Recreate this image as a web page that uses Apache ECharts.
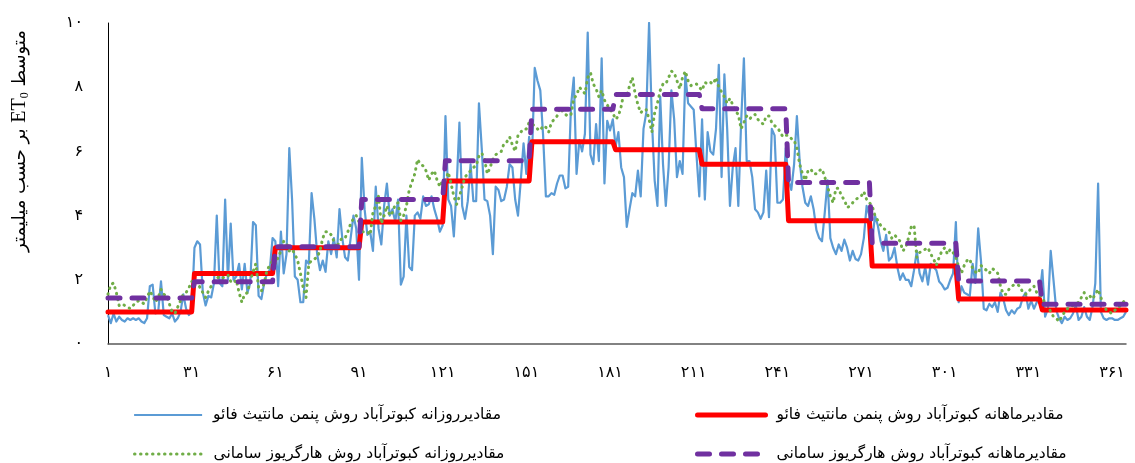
<!DOCTYPE html>
<html><head><meta charset="utf-8">
<script src="https://cdn.jsdelivr.net/npm/echarts@6/dist/echarts.min.js"></script>
<style>html,body{margin:0;padding:0;background:#fff}#c{width:1135px;height:463px}</style>
</head><body><div id="c"></div>
<script>
// ---- data ----
const seriesNames = [
  'مقادیرروزانه کبوترآباد روش پنمن مانتیث فائو',
  'مقادیرماهانه کبوترآباد روش پنمن مانتیث فائو',
  'مقادیرروزانه کبوترآباد روش هارگریوز سامانی',
  'مقادیرماهانه کبوترآباد روش هارگریوز سامانی'
];
const xTickLabels = ['۱','۳۱','۶۱','۹۱','۱۲۱','۱۵۱','۱۸۱','۲۱۱','۲۴۱','۲۷۱','۳۰۱','۳۳۱','۳۶۱'];
const yTickLabels = ['۰','۲','۴','۶','۸','۱۰'];
const monthDays = [31,29,31,30,31,30,31,31,30,31,30,31];
const monthlyFao = [1.0, 2.2, 3.0, 3.8, 5.08, 6.3, 6.05, 5.6, 3.84, 2.43, 1.4, 1.06];
const monthlyHS  = [1.43, 1.94, 3.03, 4.5, 5.71, 7.31, 7.77, 7.33, 5.03, 3.14, 1.96, 1.24];
const dailyFao = [
  0.9,0.65,0.95,0.7,0.85,0.75,0.7,0.8,0.75,0.8,0.75,0.8,0.7,0.65,0.8,1.8,1.85,0.95,1.0,1.95,0.9,0.85,0.8,0.95,0.7,0.8,1.0,1.55,1.1,0.9,1.0,
  3.0,3.2,3.1,1.6,1.2,1.5,1.45,1.9,4.0,1.9,1.8,4.5,2.0,3.75,2.0,2.1,2.5,1.7,2.5,1.6,1.9,3.8,3.7,1.5,1.4,1.9,2.2,2.3,3.3,
  3.2,1.8,3.5,2.2,2.8,6.1,4.5,2.1,2.0,1.3,1.3,2.6,2.5,4.7,3.9,2.8,2.3,2.6,2.25,3.2,2.8,3.3,2.7,4.2,3.3,2.7,2.6,3.3,4.0,3.6,2.0,
  5.8,4.2,3.4,3.5,2.9,4.9,3.6,3.1,4.3,5.0,4.0,4.2,3.8,4.5,1.85,2.1,4.0,2.4,2.3,4.0,4.1,3.9,4.6,4.3,4.35,4.6,4.2,3.9,3.5,3.7,
  7.1,4.5,4.3,3.35,4.9,6.9,4.3,3.9,4.45,5.6,4.45,4.45,7.5,6.1,4.5,4.45,4.0,2.8,4.9,4.8,4.45,4.5,4.9,5.6,5.5,4.5,4.0,5.1,6.25,5.3,6.45,
  5.8,8.6,8.2,7.9,6.5,4.6,4.6,4.7,4.65,5.0,5.25,5.25,4.85,4.9,7.4,8.3,5.3,6.35,6.0,6.55,9.7,5.9,5.6,6.85,5.7,8.9,5.0,6.95,6.65,7.0,
  6.15,6.6,5.5,5.2,3.65,4.2,4.7,4.6,5.4,4.6,6.7,7.2,10.0,7.0,5.1,4.3,7.7,5.6,4.3,5.5,7.9,7.0,5.2,5.7,5.3,8.4,7.5,7.4,7.3,5.9,4.6,
  7.0,4.5,6.6,6.0,5.9,6.7,8.7,5.2,8.4,6.7,4.3,5.5,6.1,4.3,6.9,8.9,5.7,5.7,5.2,4.2,4.1,3.9,4.1,5.4,3.95,6.7,6.5,4.4,4.4,4.5,6.1,
  5.1,4.8,5.6,7.1,5.7,4.9,4.4,4.3,4.6,4.2,3.55,3.3,3.2,4.1,5.1,3.3,3.0,2.8,3.1,2.9,3.25,3.0,2.6,2.9,2.65,2.6,2.8,3.3,4.3,4.0,
  3.2,4.0,3.7,3.2,2.9,3.4,2.6,2.7,3.0,2.4,2.0,2.2,2.0,2.0,1.8,2.3,2.9,2.2,1.95,2.4,1.85,2.5,2.4,2.3,1.95,1.85,1.7,1.75,2.0,2.2,3.8,
  1.3,1.8,1.6,1.55,1.5,2.5,1.9,3.6,2.6,1.1,1.05,1.25,1.15,1.3,1.0,1.6,1.4,1.05,0.9,1.05,0.95,1.1,1.15,1.45,1.6,1.1,1.35,1.1,1.3,1.5,
  2.3,0.85,1.1,2.9,2.0,1.05,0.8,0.65,0.85,0.75,0.8,0.95,1.2,0.75,0.85,1.15,0.85,0.75,1.15,1.9,5.0,1.0,0.8,0.75,0.8,0.8,0.75,0.75,0.8,0.85,1.0
];
const dailyHS = [
  1.55,1.85,1.9,1.6,1.2,1.25,1.2,1.15,1.1,1.2,1.3,1.35,1.3,1.25,1.45,1.65,1.5,1.3,1.45,1.7,1.55,1.5,1.25,1.0,0.95,1.15,1.35,1.55,1.6,1.75,1.95,
  1.9,1.95,1.75,1.6,1.45,1.65,1.8,1.9,2.05,2.1,2.05,2.1,2.15,1.95,1.9,2.0,1.6,1.3,1.55,1.6,1.95,2.25,2.5,1.75,1.65,1.9,2.3,2.45,2.6,
  2.5,2.7,2.9,3.2,3.15,2.9,2.95,2.8,2.6,2.2,1.75,1.45,2.5,2.6,2.65,2.7,2.9,3.3,3.5,3.5,3.4,3.2,3.0,3.2,3.3,3.3,3.5,3.75,3.9,4.0,3.8,
  3.5,3.5,3.5,3.4,4.1,4.3,4.6,3.75,4.0,4.3,4.0,4.1,4.35,4.4,3.85,4.0,4.3,4.8,5.05,5.3,5.75,5.6,5.55,5.4,5.1,5.3,5.4,5.1,4.9,5.1,
  5.1,5.35,5.0,4.6,4.35,4.6,4.9,5.2,5.3,5.4,5.5,5.55,5.85,5.95,5.75,5.3,5.5,5.75,5.9,5.95,6.0,6.25,6.3,6.45,6.2,6.0,6.5,6.6,6.7,6.7,6.9,
  6.85,6.8,6.7,6.65,6.8,6.75,6.6,6.9,7.0,7.1,7.35,7.25,7.15,7.1,7.15,7.65,7.75,8.0,7.9,7.8,8.3,8.45,8.1,7.95,7.7,7.9,7.6,7.45,7.3,7.2,
  7.0,7.1,7.4,7.85,7.7,8.05,8.3,7.8,7.45,7.2,7.3,7.3,7.0,6.6,7.2,7.5,7.9,8.1,8.1,8.3,8.5,8.45,8.2,7.95,8.3,8.5,8.2,8.05,8.1,8.1,8.0,
  7.9,8.15,8.1,8.15,8.1,8.3,8.0,7.85,7.7,7.5,7.65,7.45,7.25,7.15,6.7,6.9,7.1,7.0,7.1,7.15,7.0,6.9,6.85,7.1,7.1,6.9,6.8,6.75,6.6,6.45,6.5,
  6.5,6.4,6.35,6.1,5.6,5.3,5.1,5.4,5.45,5.3,5.3,5.4,5.45,5.2,4.9,4.6,4.4,4.85,4.85,4.6,4.5,4.25,4.3,4.4,4.5,4.55,4.6,4.75,4.5,4.4,
  4.3,4.0,3.85,3.7,3.6,3.55,3.5,3.3,3.4,3.3,3.2,2.9,3.0,3.3,3.65,3.7,2.7,2.85,2.9,2.95,3.0,2.8,2.65,2.45,2.7,2.9,3.0,2.8,2.95,2.85,2.7,
  2.4,2.2,2.45,2.6,2.65,2.35,2.25,2.2,2.45,2.35,2.3,2.2,2.35,2.3,2.2,1.8,1.55,1.55,1.7,1.8,1.85,1.85,1.8,1.6,1.55,1.6,1.75,1.8,1.6,1.55,
  1.45,1.25,1.2,1.0,0.85,0.8,0.7,0.85,1.0,1.1,1.15,1.2,1.25,1.3,1.45,1.6,1.4,1.5,1.4,1.55,1.7,1.45,1.2,1.05,1.0,0.95,1.05,1.1,1.2,1.3,1.4
];

// ---- styles ----
const faFont = 'DejaVu Sans';
const styles = [
  {color: '#5B9BD5', width: 2.2, type: 'solid', cap: 'butt'},
  {color: '#FF0000', width: 5, type: 'solid', cap: 'round'},
  {color: '#70AD47', width: 3, type: [0.5, 5.5], cap: 'round'},
  {color: '#7030A0', width: 5, type: [12, 12], cap: 'round'}
];

// ---- build ----
const days = [];
for (let d = 1; d <= dailyFao.length; d++) days.push(String(d));
function expandMonthly(vals) {
  const out = [];
  monthDays.forEach((n, i) => { for (let k = 0; k < n; k++) out.push(vals[i]); });
  return out;
}
const chart = echarts.init(document.getElementById('c'), null, {renderer: 'canvas'});
function legendAt(i, left, top) {
  const s = styles[i];
  return {
    data: [seriesNames[i]], left: left, top: top, orient: 'horizontal',
    itemWidth: 68, itemHeight: 14, selectedMode: false,
    itemStyle: {opacity: 0},
    lineStyle: {color: s.color, width: s.width, type: s.type, cap: s.cap},
    textStyle: {fontFamily: faFont, fontSize: 15.5, color: '#000', padding: [0, 0, 0, 6]}
  };
}
function lineSeries(i, data, z) {
  const s = styles[i];
  return {
    name: seriesNames[i], type: 'line', data: data, symbol: 'none', silent: true, z: z,
    lineStyle: {color: s.color, width: s.width, type: s.type, cap: s.cap, join: 'round'},
    itemStyle: {color: s.color}
  };
}
chart.setOption({
  animation: false,
  backgroundColor: '#fff',
  grid: {left: 108, right: 9, top: 23, bottom: 119, containLabel: false},
  legend: [
    legendAt(0, 128, 402),
    legendAt(1, 690, 402),
    legendAt(2, 128, 441),
    legendAt(3, 690, 441)
  ],
  graphic: [{
    type: 'text', x: 20, y: 141, rotation: Math.PI / 2,
    style: {
      text: '{fa|بر حسب میلیمتر }{en|ET}{sub|0}{fa| متوسط}',
      align: 'center', verticalAlign: 'middle', fill: '#000',
      rich: {
        fa: {fontFamily: faFont, fontSize: 18, color: '#000', lineHeight: 22},
        en: {fontFamily: 'Liberation Serif', fontSize: 20, color: '#000', lineHeight: 22},
        sub: {fontFamily: 'Liberation Serif', fontSize: 12, color: '#000', verticalAlign: 'bottom', lineHeight: 14}
      }
    }
  }],
  xAxis: {
    type: 'category', data: days, boundaryGap: false,
    axisLine: {show: true, lineStyle: {color: '#595959', width: 1.5}},
    axisTick: {show: false},
    splitLine: {show: false},
    axisLabel: {
      interval: 29, margin: 21, fontSize: 16, color: '#000', fontFamily: faFont,
      formatter: (v, i) => xTickLabels[Math.round(i / 30)]
    }
  },
  yAxis: {
    type: 'value', min: 0, max: 10, interval: 2,
    axisLine: {show: true, lineStyle: {color: '#000', width: 1}},
    axisTick: {show: false},
    splitLine: {show: false},
    axisLabel: {
      margin: 25, fontSize: 16, color: '#000', fontFamily: faFont,
      formatter: v => yTickLabels[Math.round(v / 2)]
    }
  },
  series: [
    lineSeries(0, dailyFao, 2),
    lineSeries(1, expandMonthly(monthlyFao), 3),
    lineSeries(2, dailyHS, 4),
    lineSeries(3, expandMonthly(monthlyHS), 5)
  ]
});
</script>
</body></html>
